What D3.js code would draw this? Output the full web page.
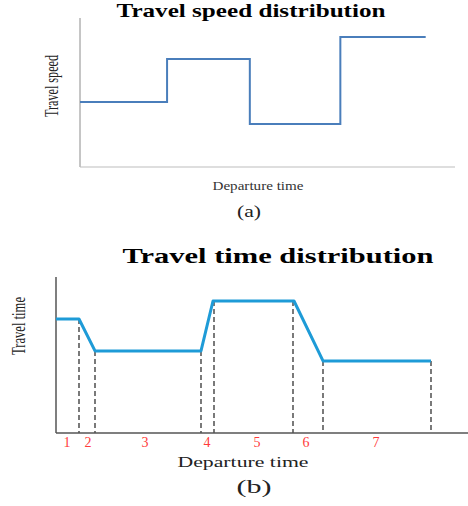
<!DOCTYPE html>
<html>
<head>
<meta charset="utf-8">
<script src="https://cdn.jsdelivr.net/npm/d3@7"></script>
<style>
  body { margin: 0; background: #fff; }
  text { font-family: "Liberation Serif", "DejaVu Serif", serif; }
</style>
</head>
<body>
<div id="chart"></div>
<script>
// (a) travel speed: step function
const speedTimes = [0, 1.01, 1.97, 3.02, 4.01];
const speedValues = [4.36, 7.25, 2.89, 8.72];

// (b) travel time: piecewise linear
const ttTimes = [0, 0.575, 0.975, 3.625, 3.925, 5.95, 6.675, 9.375];
const ttValues = [7.31, 7.31, 5.26, 5.26, 8.46, 8.46, 4.62, 4.62];
const dashTimes = [0.575, 0.975, 3.625, 3.95, 5.925, 6.675, 9.375];
const periodLabels = ["1", "2", "3", "4", "5", "6", "7"];
const periodCenters = [0.275, 0.8, 2.225, 3.775, 5.025, 6.25, 8.0];

const width = 468, height = 506;

const svg = d3.select("#chart")
    .append("svg")
    .attr("width", width)
    .attr("height", height);

// ---------- chart (a) ----------
const xa = d3.scaleLinear().domain([0, 4.35]).range([80, 455]);
const ya = d3.scaleLinear().domain([0, 10]).range([167, 18]);

svg.append("line")
    .attr("x1", xa(0)).attr("x2", xa(0))
    .attr("y1", ya(0)).attr("y2", ya(10))
    .attr("stroke", "#8c8c8c").attr("stroke-width", 1);
svg.append("line")
    .attr("x1", xa(0)).attr("x2", xa(4.35))
    .attr("y1", ya(0)).attr("y2", ya(0))
    .attr("stroke", "#bdbdbd").attr("stroke-width", 1);

const speedPts = speedValues.map((v, i) => [speedTimes[i], v]);
speedPts.push([speedTimes[speedTimes.length - 1], speedValues[speedValues.length - 1]]);

const stepLine = d3.line()
    .x(d => xa(d[0]))
    .y(d => ya(d[1]))
    .curve(d3.curveStepAfter);

svg.append("path")
    .datum(speedPts)
    .attr("fill", "none")
    .attr("stroke", "#4a7ebb")
    .attr("stroke-width", 2)
    .attr("d", stepLine);

svg.append("text")
    .attr("x", 251).attr("y", 17)
    .attr("text-anchor", "middle")
    .attr("font-size", 19).attr("font-weight", "bold")
    .attr("textLength", 269).attr("lengthAdjust", "spacingAndGlyphs")
    .text("Travel speed distribution");

svg.append("text")
    .attr("transform", "translate(58,86) rotate(-90)")
    .attr("text-anchor", "middle")
    .attr("font-size", 19)
    .attr("fill", "#222")
    .attr("textLength", 62).attr("lengthAdjust", "spacingAndGlyphs")
    .text("Travel speed");

svg.append("text")
    .attr("x", 258).attr("y", 190)
    .attr("text-anchor", "middle")
    .attr("font-size", 12)
    .attr("fill", "#333")
    .attr("textLength", 91).attr("lengthAdjust", "spacingAndGlyphs")
    .text("Departure time");

svg.append("text")
    .attr("x", 249).attr("y", 217)
    .attr("text-anchor", "middle")
    .attr("font-size", 16)
    .attr("fill", "#222")
    .attr("textLength", 24).attr("lengthAdjust", "spacingAndGlyphs")
    .text("(a)");

// ---------- chart (b) ----------
const xb = d3.scaleLinear().domain([0, 10.3]).range([56, 468]);
const yb = d3.scaleLinear().domain([0, 10]).range([433, 277]);

const ttPts = ttTimes.map((t, i) => [t, ttValues[i]]);
const ttLine = d3.line()
    .x(d => xb(d[0]))
    .y(d => yb(d[1]));

// value of the travel time curve at a time
function ttAt(t) {
    for (let i = 1; i < ttTimes.length; i++) {
        if (t <= ttTimes[i]) {
            const f = (t - ttTimes[i - 1]) / (ttTimes[i] - ttTimes[i - 1]);
            return ttValues[i - 1] + f * (ttValues[i] - ttValues[i - 1]);
        }
    }
    return ttValues[ttValues.length - 1];
}

svg.selectAll(".drop")
    .data(dashTimes)
    .join("line")
    .attr("class", "drop")
    .attr("x1", d => xb(d)).attr("x2", d => xb(d))
    .attr("y1", d => yb(ttAt(d)))
    .attr("y2", yb(0))
    .attr("stroke", "#222")
    .attr("stroke-width", 1.2)
    .attr("stroke-dasharray", "5,3");

svg.append("line")
    .attr("x1", xb(0)).attr("x2", xb(0))
    .attr("y1", yb(0)).attr("y2", yb(10))
    .attr("stroke", "#555").attr("stroke-width", 1.5);
svg.append("line")
    .attr("x1", xb(0)).attr("x2", xb(10.3))
    .attr("y1", yb(0)).attr("y2", yb(0))
    .attr("stroke", "#555").attr("stroke-width", 1.5);

svg.append("path")
    .datum(ttPts)
    .attr("fill", "none")
    .attr("stroke", "#1e9bd7")
    .attr("stroke-width", 3)
    .attr("stroke-linejoin", "round")
    .attr("d", ttLine);

svg.selectAll(".period")
    .data(periodLabels)
    .join("text")
    .attr("class", "period")
    .attr("x", (d, i) => xb(periodCenters[i]))
    .attr("y", 447)
    .attr("text-anchor", "middle")
    .attr("font-size", 14)
    .attr("fill", "#ff3b3b")
    .text(d => d);

svg.append("text")
    .attr("x", 278).attr("y", 263)
    .attr("text-anchor", "middle")
    .attr("font-size", 22).attr("font-weight", "bold")
    .attr("textLength", 311).attr("lengthAdjust", "spacingAndGlyphs")
    .text("Travel time distribution");

svg.append("text")
    .attr("transform", "translate(25,326) rotate(-90)")
    .attr("text-anchor", "middle")
    .attr("font-size", 19)
    .attr("fill", "#222")
    .attr("textLength", 58).attr("lengthAdjust", "spacingAndGlyphs")
    .text("Travel time");

svg.append("text")
    .attr("x", 243).attr("y", 467)
    .attr("text-anchor", "middle")
    .attr("font-size", 15)
    .attr("fill", "#222")
    .attr("textLength", 131).attr("lengthAdjust", "spacingAndGlyphs")
    .text("Departure time");

svg.append("text")
    .attr("x", 254).attr("y", 493)
    .attr("text-anchor", "middle")
    .attr("font-size", 19)
    .attr("fill", "#222")
    .attr("textLength", 35).attr("lengthAdjust", "spacingAndGlyphs")
    .text("(b)");
</script>
</body>
</html>
